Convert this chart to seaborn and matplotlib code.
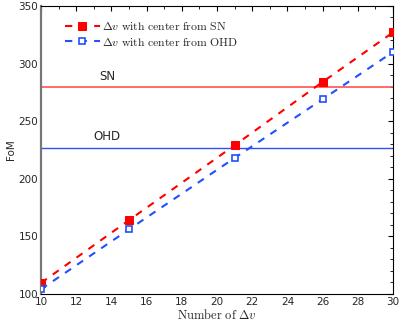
import matplotlib
matplotlib.use("Agg")
import matplotlib.pyplot as plt
import seaborn as sns
import pandas as pd
from matplotlib.ticker import MultipleLocator

sns.set_theme(style="white")
plt.rcParams['font.family'] = ['DejaVu Sans']
plt.rcParams['mathtext.fontset'] = 'cm'

n_dv = [10, 15, 21, 26, 30]
fom_sn = [109.5, 164, 229, 284, 327]
fom_ohd = [104, 156, 218, 269, 310]
sn_level = 280
ohd_level = 226.5
label_sn = r'$\Delta v\ \mathrm{with\ center\ from\ SN}$'
label_ohd = r'$\Delta v\ \mathrm{with\ center\ from\ OHD}$'

df = pd.DataFrame({
    'n': n_dv * 2,
    'fom': fom_sn + fom_ohd,
    'series': ['SN'] * 5 + ['OHD'] * 5,
})

fig = plt.figure(figsize=(4.09, 3.27), dpi=100)
ax = fig.add_axes([0.100, 0.101, 0.861, 0.881])

red = '#ff0000'
blue = '#2050ff'

ax.axhline(sn_level, color='#ff5050', lw=1.2, zorder=1)
ax.axhline(ohd_level, color='#3050f0', lw=1.0, zorder=1)

sns.lineplot(data=df[df.series == 'SN'], x='n', y='fom', ax=ax, color=red, lw=1.5,
             linestyle=(0, (3.5, 3.5)), marker='s', markersize=6,
             markerfacecolor=red, markeredgecolor=red,
             label=label_sn, zorder=3)
sns.lineplot(data=df[df.series == 'OHD'], x='n', y='fom', ax=ax, color=blue, lw=1.5,
             linestyle=(0, (3.5, 3.5)), marker='s', markersize=5,
             markerfacecolor='white', markeredgecolor=blue, markeredgewidth=1.2,
             label=label_ohd, zorder=3)

ax.text(13.75, 289, 'SN', fontsize=8.5, ha='center', va='center')
ax.text(13.75, 237, 'OHD', fontsize=8.5, ha='center', va='center')

ax.set_xlim(10, 30)
ax.set_ylim(100, 350)
ax.xaxis.set_major_locator(MultipleLocator(2))
ax.xaxis.set_minor_locator(MultipleLocator(1))
ax.yaxis.set_major_locator(MultipleLocator(50))
ax.yaxis.set_minor_locator(MultipleLocator(10))
ax.tick_params(which='both', direction='in', top=True, right=True,
               labelsize=7.5, pad=2, color='black')
ax.tick_params(which='major', length=3.5, width=0.8)
ax.tick_params(which='minor', length=2, width=0.6)
for s in ax.spines.values():
    s.set_color('black')
    s.set_linewidth(0.8)
ax.spines['left'].set_color('#777777')
ax.spines['left'].set_linewidth(1.6)

ax.set_xlabel(r'$\mathrm{Number\ of\ }\Delta v$', fontsize=9, labelpad=1)
ax.set_ylabel('FoM', fontsize=7.5, labelpad=2)

leg = ax.legend(loc='upper left', bbox_to_anchor=(0.047, 0.975), frameon=False,
                fontsize=8.5, handlelength=3.0, handletextpad=0.2,
                borderaxespad=0.2, labelspacing=0.2)

fig.savefig('out.png', dpi=100)
